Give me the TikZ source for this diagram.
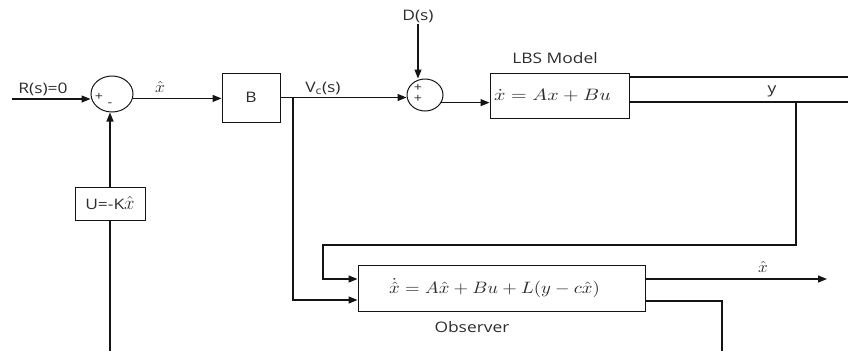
\RequirePackage{fix-cm}
\documentclass[tikz,border=0pt]{standalone}
\usepackage{fontspec}
\usepackage{graphicx}
\usepackage{tikz}
\usetikzlibrary{arrows.meta,positioning,shapes.geometric}
\newfontfamily\labelfont{Open Sans}[FakeStretch=1.2]
\definecolor{wireblack}{RGB}{20,20,20}
\definecolor{labelgrey}{RGB}{45,45,45}
\tikzset{
  block/.style={draw=wireblack,line width=1pt,fill=white,inner sep=0pt},
  sumnode/.style={ellipse,draw=wireblack,line width=1pt,
    minimum width=42pt,minimum height=36pt,inner sep=0pt},
  flow/.style={-{Triangle[length=9pt,width=7pt]},line width=1.2pt,draw=wireblack},
  wire/.style={line width=1.2pt,draw=wireblack},
  lbl/.style={font=\labelfont\fontsize{14.5}{16}\selectfont,text=labelgrey,inner sep=1pt},
  eq/.style={text=labelgrey,inner sep=1pt},
  sign/.style={font=\labelfont\fontsize{12}{12}\selectfont,text=labelgrey,inner sep=0pt}
}
\newcommand{\eqwide}[2][1.87]{\scalebox{#1}[1.65]{$#2$}}
\newcommand{\hatlabel}{\scalebox{1.7}[1.6]{$\hat{x}$}}

\begin{document}
\begin{tikzpicture}[x=1pt,y=-1pt]
  \useasboundingbox (0,0) rectangle (848,351);
  % blocks
  \node[sumnode] (sumR) at (112,94) {};
  \node[sumnode,minimum width=36pt,minimum height=32pt] (sumD) at (425,95) {};
  \node[block,lbl,minimum width=58pt,minimum height=49pt] (gainB) at (251,97.5) {B};
  \node[block,eq,minimum width=139pt,minimum height=45pt] (lbs) at (559.5,95.5)
    {\eqwide[2]{\dot{x} = Ax + Bu}\hspace*{14pt}};
  \node[block,eq,minimum width=287pt,minimum height=46pt] (obs) at (501.5,288)
    {\eqwide{\dot{\hat{x}} = A\hat{x} + Bu + L(y - c\hat{x})}\hspace*{14pt}};
  \node[block,lbl,minimum width=70pt,minimum height=33pt] (gainK) at (110,203.5)
    {U=-K\scalebox{1.3}{$\hat{x}$}};
  % labels
  \node[lbl] (rlabel) at (43,89) {R(s)=0};
  \node[eq] (xhatA) at (160,87) {\hatlabel};
  \node[lbl] (vlabel) at (323,88) {V\textsubscript{c}(s)};
  \node[lbl] (dlabel) at (418,16) {D(s)};
  \node[lbl] (lbslabel) at (555,58) {LBS Model};
  \node[lbl] (ylabel) at (772,91) {y};
  \node[eq] (xhatB) at (763,267) {\hatlabel};
  \node[lbl] (obslabel) at (472,327) {Observer};
  \node[sign] at (99,97) {+};
  \node[sign] at (110,105) {-};
  \node[sign] at (418,88) {+};
  \node[sign] at (418,99) {+};
  % free ends
  \coordinate (rin) at (12,99);
  \coordinate (tapB) at (293,97.5);
  \coordinate (ytop) at (848,77);
  \coordinate (yout) at (848,102);
  \coordinate (ytap) at (796,102);
  \coordinate (loopcorner) at (323,245);
  \coordinate (xhatout) at (827,279);
  \coordinate (obsdown) at (722,351);
  \coordinate (kbottom) at (110,351);
  % connectors
  \draw[flow] (rin) -- (rin -| sumR.west);
  \draw[flow] (sumR.-12) -- (sumR.-12 -| gainB.west);
  \draw[flow] (gainB.east) -- (gainB.east -| sumD.west);
  \draw[flow] (dlabel.south) -- (dlabel.south |- sumD.north);
  \draw[flow] (sumD.-25) -- (sumD.-25 -| lbs.west);
  \draw[wire] (lbs.east |- ytop) -- (ytop);
  \draw[wire] (lbs.east |- yout) -- (yout);
  \draw[flow] (tapB) |- (obs.west |- 0,300);
  \draw[flow] (ytap) |- (loopcorner) |- (obs.west |- 0,279);
  \draw[flow] (obs.east |- xhatout) -- (xhatout);
  \draw[wire] (obs.east |- 0,301) -| (obsdown);
  \draw[wire] (kbottom) -- (gainK.south);
  \draw[flow] (gainK.north) -- (gainK.north |- sumR.south);
\end{tikzpicture}
\end{document}
